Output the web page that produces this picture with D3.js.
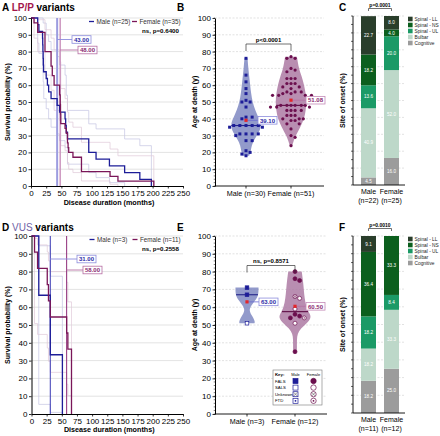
<!DOCTYPE html>
<html><head><meta charset="utf-8">
<script src="https://cdn.jsdelivr.net/npm/d3@7"></script>
<style>body{margin:0;background:#fff} svg{display:block;font-family:"Liberation Sans",Arial,Helvetica,sans-serif}</style>
</head><body><svg id="c" width="440" height="436"></svg>
<script>
// ---------------- DATA ----------------
const kmTicks = [0,25,50,75,100,125,150,175,200,225,250];
const pctTicks = [0,10,20,30,40,50,60,70,80,90,100];

// A: LP/P Kaplan-Meier (months, survival %)
const lpMaleT = [0,11,13,19,19.3,19.6,20,20.3,20.6,25,27,29,33,43,47,56,57,58,60,95,107,129,154,179,198];
const lpMaleS = [100,96,92,88,84,80,76,72,68,64,60,56,52,48,44,40,36,32,28,20,16,12,8,4,0];
const lpFemaleT = [0,5,11,23,33,35,38,47,48,48.5,49,56,58,60,61,62,69,83,130,143,202];
const lpFemaleS = [100,97.1,91.4,80,71.4,65.7,60,54.3,48.6,42.9,37.1,34.3,31.4,25.7,22.9,20,17.1,8.6,5.7,2.9,0];
const lpMaleUpT = [0,20,25,29,33,43,47,56,58,60,95,107,154,179,198];
const lpMaleUpS = [100,97,90,86,81,77,72,66,54,45,37,34,28,24,0];
const lpMaleLoT = [0,11,13,19,20,21,25,29,33,43,47,56,60,95,107,129,154];
const lpMaleLoS = [100,85,79,72,62,52,46,40,35,31,27,23,13,8,5,2,0];
const lpFemaleUpT = [0,11,23,33,38,47,49,56,60,62,69,83,130,143,202];
const lpFemaleUpS = [100,99,93,88,81,74,58,52,44,38,35,26,22,18,0];
const lpFemaleLoT = [0,5,11,23,33,38,47,49,56,60,62,69,83,130,143];
const lpFemaleLoS = [100,88,80,66,57,45,39,24,21,14,10,8,3,1,0];
const lpMedians = [43, 48];
const lpLegend = ["Male (n=25)", "Female (n=35)"];
const lpP = "ns, p=0.6400";

// D: VUS Kaplan-Meier
const vusMaleT = [0,12,31,51];
const vusMaleS = [100,66.7,33.3,0];
const vusFemaleT = [0,5,10,26,28,31,58,60,66];
const vusFemaleS = [100,90.9,81.8,72.7,63.6,54.5,45.5,36.4,0];
const vusMaleUpT = [0,12,31,51];
const vusMaleUpS = [100,94.5,77.4,0];
const vusMaleLoT = [0,12,31,51];
const vusMaleLoS = [100,5.4,0.9,0];
const vusFemaleUpT = [0,5,10,26,28,31,58,60,66];
const vusFemaleUpS = [100,98.7,95,91,86,80,74,63,0];
const vusFemaleLoT = [0,5,10,26,28,31,58,60,66];
const vusFemaleLoS = [100,50.8,44.7,37.1,29.6,23.4,16.7,10.3,0];
const vusMedians = [31, 58];
const vusLegend = ["Male (n=3)", "Female (n=11)"];
const vusP = "ns, p=0.2558";

// B: age at death, LP/P
const groupLabelsB = ["Male (n=30)", "Female (n=51)"];
const lpMaleAge = [76,66,62,58,55,51,50,50,47,40,41,41,36,36,36,36,36,35,35,30,31,31,31,31,27,27,21,20,19,18];
const lpFemaleAge = [77,76,76,70,69,68,64,64,64,61,61,61,59,59,58,56,56,56,55,55,54,54,54,54,48,48,48,48,48,48,47,47,47,45,45,45,45,42,42,42,40,40,40,39,39,37,37,34,30,29,24];
const violinBMaleAge = [18,20,24,28,32,36,40,45,50,55,60,66,70,76];
const violinBMaleDen = [0.2,0.3,0.35,0.55,0.85,1.0,0.85,0.6,0.42,0.33,0.27,0.2,0.15,0.1];
const violinBFemaleAge = [24,26,30,35,40,45,50,55,60,65,70,77];
const violinBFemaleDen = [0.08,0.14,0.3,0.6,0.85,0.95,1.0,0.95,0.85,0.7,0.5,0.38];
const pB = "p<0.0001";

// E: age at death, VUS
const groupLabelsE = ["Male (n=3)", "Female (n=12)"];
const vusMaleAge = [71,67,51];
const vusMaleType = ["FALS","FALS","SALS"];
const vusFemaleAge = [80,76,75,66,65,59,56,55,54,54,51,35];
const vusFemaleType = ["FALS","FALS","FALS","Unknown","SALS","SALS","FALS","FALS","FALS","FTD","SALS","FALS"];
const violinEMaleAge = [51,52,55,58,61,64,67,71];
const violinEMaleDen = [0.47,0.5,0.33,0.12,0.25,0.55,0.72,0.72];
const violinEFemaleAge = [35,38,42,45,48,51,54,56,60,65,70,75,80];
const violinEFemaleDen = [0.12,0.12,0.12,0.15,0.35,0.75,1.0,0.95,0.7,0.6,0.55,0.5,0.42];
const pE = "ns, p=0.8571";
const keyTypes = ["FALS","SALS","Unknown","FTD"];

// C / F: site of onset (%)
const onsetCats = ["Cognitive","Bulbar","Spinal - UL","Spinal - NS","Spinal - LL"];
const barGroups = ["Male","Female"];
const lpOnsetMale = [4.5,40.9,13.6,18.2,22.7];
const lpOnsetFemale = [16.0,52.0,20.0,4.0,8.0];
const lpOnsetN = ["(n=22)","(n=25)"];
const lpOnsetP = "p=0.0001";
const vusOnsetMale = [18.2,18.2,18.2,36.4,9.1];
const vusOnsetFemale = [25.0,33.3,8.4,33.3,0];
const vusOnsetN = ["(n=11)","(n=12)"];
const vusOnsetP = "p=0.0010";

// ---------------- DRAWING ----------------
const svg = d3.select("#c");
const BLUE = "#1d1d98", PURPLE = "#7a1658";
const onsetColor = d3.scaleOrdinal().domain(onsetCats)
  .range(["#9c9c9c","#bdd8c9","#1b9a66","#0c5f1e","#2a3e2b"]);

function text(g, x, y, s, o = {}) {
  return g.append("text").attr("x", x).attr("y", y).text(s)
    .attr("font-size", o.size || 7).attr("font-weight", o.bold ? "bold" : "normal")
    .attr("fill", o.fill || "#000").attr("text-anchor", o.anchor || "start");
}
function styleAxis(a, size) {
  a.selectAll("text").attr("font-size", size).attr("fill", "#000")
   .attr("font-family", "'Liberation Sans', Arial, sans-serif");
  a.selectAll("line").attr("stroke", "#000").attr("stroke-width", 0.8);
  a.select(".domain").attr("stroke", "#000").attr("stroke-width", 1);
}
function labelBox(g, x, y, s, stroke, fill) {
  g.append("rect").attr("x", x).attr("y", y - 3.8).attr("width", 19).attr("height", 7.6)
   .attr("fill", "#fff").attr("stroke", stroke).attr("stroke-width", 0.8);
  text(g, x + 9.5, y + 2.2, s, { size: 6, bold: true, fill, anchor: "middle" });
}

function kmPanel(o) {
  const g = svg.append("g");
  const x = d3.scaleLinear().domain([0, 250]).range([o.x0, o.x1]);
  const y = d3.scaleLinear().domain([0, 100]).range([o.y0, o.y1]);
  g.selectAll(null).data(pctTicks.slice(1)).join("line")
    .attr("x1", x(0)).attr("x2", x(250)).attr("y1", d => y(d)).attr("y2", d => y(d))
    .attr("stroke", "#dcdcdc").attr("stroke-width", 0.8);
  const line = d3.line().curve(d3.curveStepAfter).x(d => x(d[0])).y(d => y(d[1]));
  o.ci.forEach(c => g.append("path").attr("d", line(d3.zip(c[0], c[1])))
    .attr("fill", "none").attr("stroke", c[2]).attr("stroke-width", 0.7));
  // median lines
  o.medians.forEach((m, i) => g.append("line").attr("x1", x(m)).attr("x2", x(m))
    .attr("y1", y(100)).attr("y2", y(0)).attr("stroke", o.medColors[i]).attr("stroke-width", o.medWidths[i]));
  // median labels
  o.medians.forEach((m, i) => {
    const ly = o.labY[i];
    g.append("line").attr("x1", x(m)).attr("x2", o.labX[i]).attr("y1", ly).attr("y2", ly)
      .attr("stroke", o.connColors[i]).attr("stroke-width", 0.9);
    labelBox(g, o.labX[i], ly, d3.format(".2f")(m), o.connColors[i], i ? "#8a2a72" : "#2a2aa6");
  });
  // curves
  g.append("path").attr("d", line(d3.zip(o.male[0], o.male[1]))).attr("fill", "none")
    .attr("stroke", BLUE).attr("stroke-width", 1.3);
  g.append("path").attr("d", line(d3.zip(o.female[0], o.female[1]))).attr("fill", "none")
    .attr("stroke", PURPLE).attr("stroke-width", 1.3);
  // axes
  const ax = g.append("g").attr("transform", `translate(0,${o.y0})`)
    .call(d3.axisBottom(x).tickValues(kmTicks).tickSize(2.5).tickSizeOuter(0).tickPadding(2));
  styleAxis(ax, 8);
  const ay = g.append("g").attr("transform", `translate(${o.x0},0)`)
    .call(d3.axisLeft(y).tickValues(pctTicks).tickSize(2.5).tickSizeOuter(0).tickPadding(1.5));
  styleAxis(ay, 8);
  // legend
  const lg = [[o.x0 + 58, BLUE, o.legend[0]], [o.x0 + 101, PURPLE, o.legend[1]]];
  lg.forEach(([lx, c, s]) => {
    g.append("line").attr("x1", lx).attr("x2", lx + 5).attr("y1", o.y1 + 3.5).attr("y2", o.y1 + 3.5)
      .attr("stroke", c).attr("stroke-width", 1.3);
    text(g, lx + 7.5, o.y1 + 5.7, s, { size: 6.3, fill: "#333" });
  });
  text(g, o.x1 - 4, o.y1 + 14.6, o.p, { size: 6.2, bold: true, anchor: "end" });
  text(g, 9.5, (o.y0 + o.y1) / 2, "Survival probability (%)", { size: 7, bold: true, anchor: "middle" })
    .attr("transform", `rotate(-90,9.5,${(o.y0 + o.y1) / 2})`).attr("dy", 0);
  text(g, (o.x0 + o.x1) / 2 + 2, o.xlabY, "Disease duration (months)", { size: 7.2, bold: true, anchor: "middle" });
}

kmPanel({
  x0: 31, x1: 183, y0: 186, y1: 18,
  male: [lpMaleT, lpMaleS], female: [lpFemaleT, lpFemaleS],
  ci: [[lpMaleUpT, lpMaleUpS, "#c4c4e2"], [lpMaleLoT, lpMaleLoS, "#c4c4e2"],
       [lpFemaleUpT, lpFemaleUpS, "#e0c9d8"], [lpFemaleLoT, lpFemaleLoS, "#e0c9d8"]],
  medians: lpMedians, medColors: ["#9c9ce0", "#c98fbb"], medWidths: [2, 1.4],
  connColors: ["#8d8ddc", "#b66fa3"], labX: [72, 78], labY: [39.5, 50],
  legend: lpLegend, p: lpP, xlabY: 205
});
kmPanel({
  x0: 31.5, x1: 183, y0: 414, y1: 236,
  male: [vusMaleT, vusMaleS], female: [vusFemaleT, vusFemaleS],
  ci: [[vusMaleUpT, vusMaleUpS, "#c4c4e2"], [vusMaleLoT, vusMaleLoS, "#c4c4e2"],
       [vusFemaleUpT, vusFemaleUpS, "#e0c9d8"], [vusFemaleLoT, vusFemaleLoS, "#e0c9d8"]],
  medians: vusMedians, medColors: ["#3a3ab4", "#8e2c78"], medWidths: [1, 1],
  connColors: ["#8d8ddc", "#b66fa3"], labX: [77, 83], labY: [259, 270],
  legend: vusLegend, p: vusP, xlabY: 432
});

// titles
const tA = svg.append("text").attr("x", 2).attr("y", 10.5).attr("font-size", 10).attr("font-weight", "bold");
tA.append("tspan").text("A ");
tA.append("tspan").attr("fill", "#a3164b").text("LP/P");
tA.append("tspan").text(" variants");
const tD = svg.append("text").attr("x", 2).attr("y", 231).attr("font-size", 10).attr("font-weight", "bold");
tD.append("tspan").text("D ");
tD.append("tspan").attr("fill", "#6f62a6").attr("font-weight", "normal").text("VUS");
tD.append("tspan").text(" variants");
[["B", 177, 10.5], ["C", 339, 10.5], ["E", 177, 231], ["F", 339, 231]].forEach(([s, x, y]) =>
  text(svg, x, y, s, { size: 10, bold: true }));

// ---------- violin panels ----------
function marker(g, cx, cy, type, male, color) {
  const filled = type === "FALS";
  let m;
  if (male) m = g.append("rect").attr("x", cx - 1.8).attr("y", cy - 1.8).attr("width", 3.6).attr("height", 3.6);
  else m = g.append("circle").attr("cx", cx).attr("cy", cy).attr("r", 2);
  m.attr("fill", filled ? color : "#fff").attr("stroke", color).attr("stroke-width", 0.7);
  if (type === "Unknown") {
    g.append("path").attr("d", `M${cx - 1.3},${cy - 1.3}L${cx + 1.3},${cy + 1.3}M${cx - 1.3},${cy + 1.3}L${cx + 1.3},${cy - 1.3}`)
      .attr("stroke", color).attr("stroke-width", 0.6);
  }
  if (type === "FTD") g.append("circle").attr("cx", cx).attr("cy", cy).attr("r", 0.7).attr("fill", color);
}
function swarm(vals, y, cx, sp) {
  const pts = vals.map((v, i) => ({ v, i, y: y(v) })).sort((a, b) => a.y - b.y);
  const placed = [];
  const offs = [0];
  for (let j = 1; j < 30; j++) offs.push(j * sp / 2, -j * sp / 2);
  pts.forEach(p => {
    for (const o of offs) {
      if (placed.every(q => Math.hypot(q.x - (cx + o), q.y - p.y) >= sp)) { p.x = cx + o; break; }
    }
    placed.push(p);
  });
  return pts.sort((a, b) => a.i - b.i);
}
function violinPanel(o) {
  const g = svg.append("g");
  const y = d3.scaleLinear().domain([0, 100]).range([o.y0, o.y1]);
  const x = d3.scalePoint().domain(o.groups).range(o.xr);
  const w = d3.scaleLinear().domain([0, 1]).range([0, o.maxW]);
  g.selectAll(null).data(pctTicks.slice(1)).join("line")
    .attr("x1", o.ax).attr("x2", o.ax1).attr("y1", d => y(d)).attr("y2", d => y(d))
    .attr("stroke", "#d6d6d6").attr("stroke-width", 0.7).attr("stroke-dasharray", "2,1.5");
  const cols = [{ fill: "#7f88c2", dot: BLUE, med: "#23238a" }, { fill: "#ad7aa3", dot: "#6c0f4e", med: "#5e0c44" }];
  o.sets.forEach((s, k) => {
    const cx = x(o.groups[k]);
    const area = d3.area().curve(d3.curveBasis)
      .y(d => y(d[0])).x0(d => cx - w(d[1])).x1(d => cx + w(d[1]));
    g.append("path").attr("d", area(d3.zip(s.vAge, s.vDen))).attr("fill", cols[k].fill)
      .attr("fill-opacity", 0.85).attr("stroke", "none");
    const med = d3.median(s.ages);
    const hw = w(d3.max(s.vDen)) * 0.95;
    const medW = Math.min(hw, o.medW[k]);
    g.append("line").attr("x1", cx - medW).attr("x2", cx + medW).attr("y1", y(med)).attr("y2", y(med))
      .attr("stroke", cols[k].med).attr("stroke-width", 1.1);
    const pts = swarm(s.ages, y, cx, o.sp);
    pts.forEach(p => {
      if (s.types) marker(g, p.x, p.y, s.types[p.i], k === 0, cols[k].dot);
      else if (k === 0) g.append("rect").attr("x", p.x - 1.5).attr("y", p.y - 1.5).attr("width", 3).attr("height", 3).attr("fill", cols[k].dot);
      else g.append("circle").attr("cx", p.x).attr("cy", p.y).attr("r", 1.6).attr("fill", cols[k].dot);
    });
    const mean = d3.mean(s.ages);
    g.append("line").attr("x1", cx).attr("x2", o.boxX[k]).attr("y1", y(mean)).attr("y2", y(mean))
      .attr("stroke", k ? "#b66fa3" : "#6a6ad0").attr("stroke-width", 0.8);
    g.append("rect").attr("x", cx - 1.6).attr("y", y(mean) - 1.6).attr("width", 3.2).attr("height", 3.2).attr("fill", "#e3262a");
    labelBox(g, o.boxX[k], y(mean), d3.format(".2f")(mean), k ? "#c48ab7" : "#8d8ddc", k ? "#8a2a72" : "#2a2aa6");
  });
  // axes
  const ay = g.append("g").attr("transform", `translate(${o.ax},0)`)
    .call(d3.axisLeft(y).tickValues(pctTicks).tickSize(2.5).tickSizeOuter(0).tickPadding(1.5));
  styleAxis(ay, 8);
  g.selectAll(null).data(d3.range(0, 101, 2)).join("line")
    .attr("x1", o.ax - 1.3).attr("x2", o.ax).attr("y1", d => y(d)).attr("y2", d => y(d))
    .attr("stroke", "#000").attr("stroke-width", 0.5);
  g.append("line").attr("x1", o.ax).attr("x2", o.ax1).attr("y1", o.y0).attr("y2", o.y0)
    .attr("stroke", "#000").attr("stroke-width", 0.9);
  o.groups.forEach((gname, k) => {
    g.append("line").attr("x1", x(gname)).attr("x2", x(gname)).attr("y1", o.y0).attr("y2", o.y0 + 2.5)
      .attr("stroke", "#000").attr("stroke-width", 0.8);
    text(g, x(gname), o.y0 + 9.5, gname, { size: 7.2, anchor: "middle" });
  });
  text(g, 197, (o.y0 + o.y1) / 2, "Age at death (y)", { size: 7, bold: true, anchor: "middle" })
    .attr("transform", `rotate(-90,197,${(o.y0 + o.y1) / 2})`);
  // bracket
  const bx0 = x(o.groups[0]), bx1 = x(o.groups[1]);
  g.append("path").attr("d", `M${bx0},${o.brY + 7}V${o.brY}H${bx1}V${o.brY + 7}`)
    .attr("fill", "none").attr("stroke", "#333").attr("stroke-width", 0.7);
  text(g, (bx0 + bx1) / 2, o.brY - 2.5, o.p, { size: 6, bold: true, anchor: "middle" });
}

violinPanel({
  y0: 186, y1: 18, ax: 215, ax1: 324, xr: [246, 291], groups: groupLabelsB, maxW: 15.5, sp: 4.1,
  medW: [15, 16], boxX: [258, 306], brY: 44, p: pB,
  sets: [{ ages: lpMaleAge, vAge: violinBMaleAge, vDen: violinBMaleDen },
         { ages: lpFemaleAge, vAge: violinBFemaleAge, vDen: violinBFemaleDen }]
});
violinPanel({
  y0: 414, y1: 236, ax: 215, ax1: 327, xr: [247, 295], groups: groupLabelsE, maxW: 16, sp: 4.6,
  medW: [11, 13], boxX: [259, 306], brY: 265.5, p: pE,
  sets: [{ ages: vusMaleAge, types: vusMaleType, vAge: violinEMaleAge, vDen: violinEMaleDen },
         { ages: vusFemaleAge, types: vusFemaleType, vAge: violinEFemaleAge, vDen: violinEFemaleDen }]
});

// key box in E
{
  const g = svg.append("g");
  g.append("rect").attr("x", 273).attr("y", 370).attr("width", 49).attr("height", 35)
    .attr("fill", "#fff").attr("stroke", "#777").attr("stroke-width", 0.6);
  text(g, 275, 375.5, "Key:", { size: 4.3, bold: true });
  text(g, 295.5, 375.5, "Male", { size: 4, anchor: "middle" });
  text(g, 313.5, 375.5, "Female", { size: 4, anchor: "middle" });
  keyTypes.forEach((t, i) => {
    const yy = 381 + i * 6.6;
    text(g, 275, yy + 1.5, t, { size: 4.3 });
    g.append("rect").attr("x", 293).attr("y", yy - 2.5).attr("width", 5).attr("height", 5)
      .attr("fill", t === "FALS" ? BLUE : "#fff").attr("stroke", BLUE).attr("stroke-width", 0.7);
    g.append("circle").attr("cx", 313.5).attr("cy", yy).attr("r", 2.7)
      .attr("fill", t === "FALS" ? "#6c0f4e" : "#fff").attr("stroke", "#6c0f4e").attr("stroke-width", 0.7);
    if (t === "Unknown") {
      g.append("path").attr("d", `M293.5,${yy - 2}l4,4M293.5,${yy + 2}l4,-4M311.6,${yy - 1.9}l3.8,3.8M311.6,${yy + 1.9}l3.8,-3.8`)
        .attr("stroke", "#555").attr("stroke-width", 0.6);
    }
    if (t === "FTD") {
      g.append("circle").attr("cx", 295.5).attr("cy", yy).attr("r", 0.9).attr("fill", BLUE);
      g.append("circle").attr("cx", 313.5).attr("cy", yy).attr("r", 0.9).attr("fill", "#6c0f4e");
    }
  });
}

// ---------- stacked bars ----------
function barPanel(o) {
  const g = svg.append("g");
  const y = d3.scaleLinear().domain([0, 100]).range([o.y0, o.y1]);
  const x = d3.scaleBand().domain(barGroups).range([357.5, 402.5]).paddingInner(0.348).paddingOuter(0.152);
  g.selectAll(null).data(d3.range(10, 101, 10)).join("line")
    .attr("x1", 353).attr("x2", 405).attr("y1", d => y(d)).attr("y2", d => y(d))
    .attr("stroke", "#cfcfcf").attr("stroke-width", 0.6).attr("stroke-dasharray", "2,1.5");
  const rows = barGroups.map((gname, k) => {
    const r = { group: gname };
    onsetCats.forEach((c, i) => r[c] = o.vals[k][i]);
    return r;
  });
  const stack = d3.stack().keys(onsetCats)(rows);
  stack.forEach(layer => {
    layer.forEach(d => {
      const gname = d.data.group;
      const v = d[1] - d[0];
      if (v <= 0) return;
      g.append("rect").attr("x", x(gname)).attr("width", x.bandwidth())
        .attr("y", y(Math.min(d[1], 100))).attr("height", y(d[0]) - y(Math.min(d[1], 100)))
        .attr("fill", onsetColor(layer.key));
      text(g, x(gname) + x.bandwidth() / 2, y((d[0] + Math.min(d[1], 100)) / 2) + 1.6, d3.format(".1f")(v),
        { size: 4.6, fill: "#fff", anchor: "middle" });
    });
  });
  // axes
  g.append("line").attr("x1", 353).attr("x2", 353).attr("y1", o.y0).attr("y2", o.y1).attr("stroke", "#000").attr("stroke-width", 0.9);
  g.selectAll(null).data(d3.range(0, 101, 5)).join("line")
    .attr("x1", 351).attr("x2", 353).attr("y1", d => y(d)).attr("y2", d => y(d)).attr("stroke", "#000").attr("stroke-width", 0.6);
  g.append("line").attr("x1", 353).attr("x2", 405).attr("y1", o.y0).attr("y2", o.y0).attr("stroke", "#000").attr("stroke-width", 0.9);
  barGroups.forEach((gname, k) => {
    const cx = x(gname) + x.bandwidth() / 2;
    text(g, cx, o.y0 + 9, gname, { size: 7, anchor: "middle" });
    text(g, cx, o.y0 + 18, o.n[k], { size: 7, anchor: "middle" });
  });
  text(g, 345, (o.y0 + o.y1) / 2, "Site of onset (%)", { size: 7, bold: true, anchor: "middle" })
    .attr("transform", `rotate(-90,345,${(o.y0 + o.y1) / 2})`);
  // bracket
  const bx0 = x("Male") + x.bandwidth() / 2, bx1 = x("Female") + x.bandwidth() / 2;
  g.append("path").attr("d", `M${bx0},${o.y1 - 5}V${o.y1 - 7.5}H${bx1}V${o.y1 - 5}`)
    .attr("fill", "none").attr("stroke", "#333").attr("stroke-width", 0.7);
  text(g, (bx0 + bx1) / 2, o.y1 - 9, o.p, { size: 5, bold: true, anchor: "middle" });
  // legend
  onsetCats.slice().reverse().forEach((c, i) => {
    const ly = o.y1 + 3 + i * 6;
    g.append("rect").attr("x", 408).attr("y", ly - 2.3).attr("width", 4.6).attr("height", 4.6).attr("fill", onsetColor(c));
    text(g, 414.5, ly + 1.7, c, { size: 4.8, fill: "#222" });
  });
}
barPanel({ y0: 185, y1: 16, vals: [lpOnsetMale, lpOnsetFemale], n: lpOnsetN, p: lpOnsetP });
barPanel({ y0: 413, y1: 236, vals: [vusOnsetMale, vusOnsetFemale], n: vusOnsetN, p: vusOnsetP });
</script></body></html>
